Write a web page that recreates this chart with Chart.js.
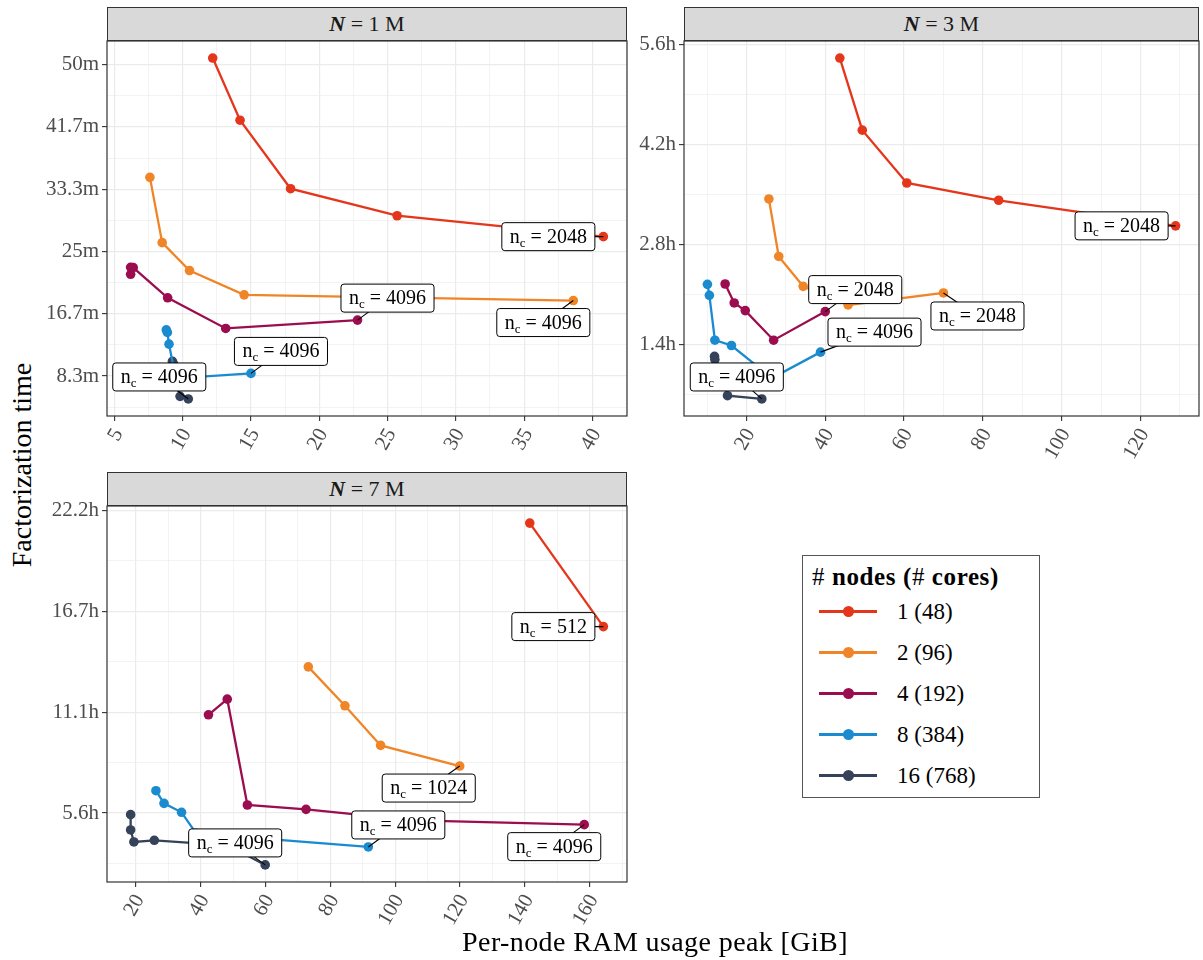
<!DOCTYPE html>
<html>
<head>
<meta charset="utf-8">
<script src="https://cdn.jsdelivr.net/npm/chart.js@4"></script>
<style>
body { margin: 0; background: #fff; width: 1203px; height: 960px; position: relative; overflow: hidden; font-family: 'Liberation Serif', serif; color: #000; }
canvas { position: absolute; }
.strip { position: absolute; height: 34px; background: #D9D9D9; border: 1px solid #333; box-sizing: border-box; text-align: center; font-size: 22px; line-height: 31px; color: #1A1A1A; }
.strip b { font-style: italic; }
#ytitle { position: absolute; left: 22px; top: 465px; transform: translate(-50%, -50%) rotate(-90deg); font-size: 28px; white-space: nowrap; }
#xtitle { position: absolute; left: 655px; top: 942px; transform: translate(-50%, -50%); font-size: 28px; white-space: nowrap; letter-spacing: 0.4px; }
#legend { position: absolute; left: 802px; top: 555px; width: 238px; height: 243px; border: 1px solid #555; box-sizing: border-box; }
#legend .ltitle { position: absolute; left: 9px; top: 7px; font-size: 25px; white-space: nowrap; letter-spacing: 0.6px; }
#legend .item { position: absolute; left: 0; height: 30px; width: 236px; font-size: 23px; line-height: 30px; }
#legend .key { position: absolute; left: 16px; top: 13px; width: 58px; height: 3px; }
#legend .dot { position: absolute; left: 40px; top: 9px; width: 11px; height: 11px; border-radius: 50%; }
#legend .txt { position: absolute; left: 94px; top: 0; }
</style>
</head>
<body>
<div class="strip" id="s1" style="left:107px; top:7px; width:520px;"></div>
<div class="strip" id="s2" style="left:684px; top:7px; width:515px;"></div>
<div class="strip" id="s3" style="left:107px; top:472px; width:520px;"></div>
<canvas id="p1"></canvas>
<canvas id="p2"></canvas>
<canvas id="p3"></canvas>
<div id="ytitle">Factorization time</div>
<div id="xtitle">Per-node RAM usage peak [GiB]</div>
<div id="legend"></div>
<script>
// series: number of nodes (cores)
const nodeLabels = ['1 (48)', '2 (96)', '4 (192)', '8 (384)', '16 (768)'];
const colors = ['#E4361B', '#F08528', '#9B0D4F', '#1A8BCF', '#35425A'];
const panelNames = ['1 M', '3 M', '7 M'];

// N = 1M : per-node RAM peak [GiB] and factorization time [s]
const ram1M = [
    [12.2, 14.2, 17.9, 25.7, 40.8],
    [7.6, 8.5, 10.5, 14.5, 38.6],
    [6.19, 6.19, 6.38, 8.9, 13.15, 22.8],
    [8.8, 8.88, 9.0, 9.49, 15.0],
    [9.25, 9.35, 9.81, 10.41]
];
const time1M = [
    [3053, 2554, 2004, 1787, 1619],
    [2095, 1571, 1347, 1152, 1106],
    [1317, 1373, 1370, 1128, 882, 949],
    [871, 850, 756, 481, 521],
    [618, 591, 337, 316]
];
const nc1M = [2048, 4096, 4096, 4096, 4096];

// N = 3M
const ram3M = [
    [43.7, 49.4, 60.7, 84.0, 128.9],
    [25.7, 28.2, 34.4, 45.8, 70.0],
    [14.6, 16.9, 19.7, 26.9, 40.0],
    [10.1, 10.6, 12.0, 16.2, 26.5, 38.8],
    [11.9, 12.0, 15.2, 23.9]
];
const time3M = [
    [19334, 15721, 13074, 12208, 10926],
    [12274, 9394, 7896, 6963, 7563],
    [8012, 7063, 6680, 5198, 6630],
    [7995, 7446, 5198, 4932, 3300, 4599],
    [4389, 4226, 2416, 2253]
];
const nc3M = [2048, 2048, 2048, 4096, 4096];

// N = 7M
const ram7M = [
    [141.5, 164.2],
    [73.2, 84.5, 95.5, 119.9],
    [42.4, 48.2, 54.4, 72.5, 106.2, 158.3],
    [26.2, 28.7, 34.1, 38.6, 91.7],
    [18.4, 18.4, 19.4, 25.7, 48.4, 59.9]
];
const time7M = [
    [77492, 56964],
    [48977, 41254, 33399, 29307],
    [39472, 42574, 21584, 20726, 18548, 17690],
    [24422, 21914, 20132, 15974, 13267],
    [19670, 16634, 14257, 14587, 13597, 9703]
];
const nc7M = [512, 1024, 4096, 4096, 4096];

// tick values
const ramTicks1M = [5, 10, 15, 20, 25, 30, 35, 40];
const timeTicks1M = [500, 1000, 1500, 2000, 2500, 3000];
const ramTicks3M = [20, 40, 60, 80, 100, 120];
const timeTicks3M = [5000, 10000, 15000, 20000];
const ramTicks7M = [20, 40, 60, 80, 100, 120, 140, 160];
const timeTicks7M = [20000, 40000, 60000, 80000];

// where the n_c boxes sit relative to the last point of each series (px)
const labelOffsets1M = [[-55, 0], [-30, 22], [30, -22], [30, -22], [-29, -22]];
const labelOffsets3M = [[-54, 0], [34, 23], [30, -22], [54, -20], [-25, -22]];
const labelOffsets7M = [[-50, 0], [-31, 22], [-30, 22], [30, -22], [-30, -22]];

const FONT = "'Liberation Serif', serif";
const fmtMin = v => +(v / 60).toFixed(1) + 'm';
const fmtHour = v => +(v / 3600).toFixed(1) + 'h';

// frame + n_c labels
const ncLabels = {
    id: 'ncLabels',
    afterDatasetsDraw(chart, args, opts) {
        const ctx = chart.ctx;
        const a = chart.chartArea;
        ctx.save();
        ctx.strokeStyle = '#333';
        ctx.lineWidth = 1.2;
        ctx.strokeRect(a.left, a.top, a.right - a.left, a.bottom - a.top);

        opts.labels.forEach((nc, i) => {
            const meta = chart.getDatasetMeta(i);
            const pt = meta.data[meta.data.length - 1];
            const cx = pt.x + opts.offsets[i][0];
            const cy = pt.y + opts.offsets[i][1];

            ctx.font = '20px ' + FONT;
            const wN = ctx.measureText('n').width;
            const rest = ' = ' + nc;
            const wR = ctx.measureText(rest).width;
            ctx.font = '13px ' + FONT;
            const wC = ctx.measureText('c').width;
            const w = wN + wC + wR + 16;
            const h = 28;

            ctx.strokeStyle = '#000';
            ctx.lineWidth = 1.1;
            ctx.beginPath();
            ctx.moveTo(pt.x, pt.y);
            ctx.lineTo(cx, cy);
            ctx.stroke();

            ctx.beginPath();
            ctx.roundRect(cx - w / 2, cy - h / 2, w, h, 3);
            ctx.fillStyle = '#fff';
            ctx.fill();
            ctx.lineWidth = 1;
            ctx.stroke();

            ctx.fillStyle = '#000';
            ctx.textBaseline = 'alphabetic';
            ctx.textAlign = 'left';
            let x = cx - w / 2 + 8;
            ctx.font = '20px ' + FONT;
            ctx.fillText('n', x, cy + 6);
            x += wN;
            ctx.font = '13px ' + FONT;
            ctx.fillText('c', x, cy + 10);
            x += wC;
            ctx.font = '20px ' + FONT;
            ctx.fillText(rest, x, cy + 6);
        });
        ctx.restore();
    }
};

function range(sets) {
    const all = sets.flat();
    const lo = Math.min(...all), hi = Math.max(...all);
    const pad = (hi - lo) * 0.05;
    return [lo - pad, hi + pad];
}

// major ticks plus minor grid halfway between them
function buildTicks(majors, min, max) {
    const step = majors[1] - majors[0];
    const out = [];
    [majors[0] - step / 2, ...majors.map(v => v + step / 2)]
        .filter(v => v >= min && v <= max)
        .forEach(v => out.push({ value: v, minor: true }));
    majors.filter(v => v >= min && v <= max)
        .forEach(v => out.push({ value: v, minor: false }));
    return out.sort((p, q) => p.value - q.value);
}

function axis(which, min, max, majors, fmt, size) {
    const isX = which === 'x';
    return {
        type: 'linear',
        min: min,
        max: max,
        afterBuildTicks: s => { s.ticks = buildTicks(majors, min, max); },
        afterFit: s => {
            if (isX) s.height = size; else s.width = size;
            s.paddingTop = 0; s.paddingBottom = 0; s.paddingLeft = 0; s.paddingRight = 0;
        },
        border: { display: false },
        grid: {
            color: '#EBEBEB',
            lineWidth: c => (c.tick && c.tick.minor) ? 0.6 : 1.2,
            tickColor: c => (c.tick && c.tick.minor) ? 'rgba(0,0,0,0)' : '#333333',
            tickLength: 5,
            tickWidth: 1.1
        },
        ticks: {
            autoSkip: false,
            callback: (v, i, ts) => ts[i].minor ? '' : fmt(v),
            color: '#4D4D4D',
            font: { family: FONT, size: 21 },
            padding: 3,
            minRotation: isX ? 60 : 0,
            maxRotation: isX ? 60 : 0,
            labelOffset: isX ? 4 : 0
        }
    };
}

function makePanel(id, box, yW, ram, time, ramTicks, timeTicks, fmt, nc, offsets) {
    const canvas = document.getElementById(id);
    const W = yW + (box.right - box.left) + 12;
    const H = 15 + (box.bottom - box.top) + 60;
    canvas.width = W;
    canvas.height = H;
    canvas.style.left = (box.left - yW) + 'px';
    canvas.style.top = (box.top - 15) + 'px';
    const [xmin, xmax] = range(ram);
    const [ymin, ymax] = range(time);

    new Chart(canvas, {
        type: 'scatter',
        data: {
            datasets: ram.map((xs, i) => ({
                label: nodeLabels[i],
                data: xs.map((x, j) => ({ x: x, y: time[i][j] })),
                showLine: true,
                borderColor: colors[i],
                backgroundColor: colors[i],
                borderWidth: 2.3,
                pointRadius: 4.8,
                pointBorderWidth: 0,
                pointHoverRadius: 4.8
            }))
        },
        options: {
            responsive: false,
            animation: false,
            devicePixelRatio: 1,
            layout: { padding: { top: 15, right: 12, left: 0, bottom: 0 } },
            plugins: {
                legend: { display: false },
                tooltip: { enabled: false },
                ncLabels: { labels: nc, offsets: offsets }
            },
            scales: {
                x: axis('x', xmin, xmax, ramTicks, v => String(v), 60),
                y: axis('y', ymin, ymax, timeTicks, fmt, yW)
            }
        },
        plugins: [ncLabels]
    });
}

// strips
['s1', 's2', 's3'].forEach((id, i) => {
    document.getElementById(id).innerHTML = '<b>N</b> = ' + panelNames[i];
});

// legend
const legend = document.getElementById('legend');
legend.innerHTML = '<div class="ltitle"># <b>nodes (</b>#<b> cores)</b></div>' +
    nodeLabels.map((lab, i) =>
        '<div class="item" style="top:' + (41 + i * 41) + 'px">' +
        '<span class="key" style="background:' + colors[i] + '"></span>' +
        '<span class="dot" style="background:' + colors[i] + '"></span>' +
        '<span class="txt">' + lab + '</span></div>').join('');

makePanel('p1', { left: 107, top: 41, right: 627, bottom: 416 }, 67,
    ram1M, time1M, ramTicks1M, timeTicks1M, fmtMin, nc1M, labelOffsets1M);
makePanel('p2', { left: 684, top: 41, right: 1199, bottom: 416 }, 57,
    ram3M, time3M, ramTicks3M, timeTicks3M, fmtHour, nc3M, labelOffsets3M);
makePanel('p3', { left: 107, top: 506, right: 627, bottom: 882 }, 67,
    ram7M, time7M, ramTicks7M, timeTicks7M, fmtHour, nc7M, labelOffsets7M);
</script>
</body>
</html>
